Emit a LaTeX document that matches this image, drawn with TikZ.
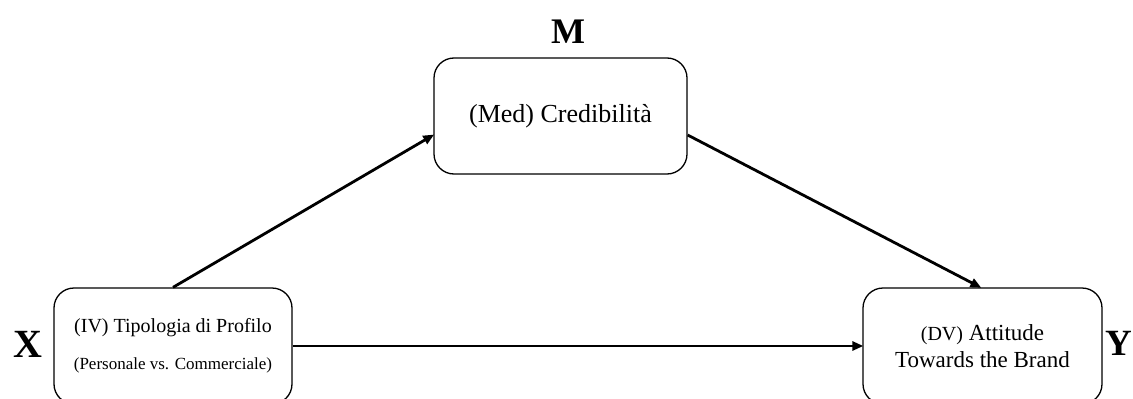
\documentclass[tikz,border=0pt]{standalone}
\usepackage{fontspec}
\setmainfont{Liberation Serif}
\usepackage{tikz}
\usetikzlibrary{arrows.meta,positioning}

\begin{document}
\begin{tikzpicture}[
  x=1pt, y=-1pt,
  box/.style={draw=black, line width=1.3pt, rounded corners=20pt, fill=white, minimum height=116pt, inner sep=0pt, align=center},
  varlabel/.style={font=\fontsize{40}{40}\selectfont\bfseries, inner sep=0pt},
  arrow/.style={-{Triangle[length=11pt, width=9pt]}, line width=2.8pt, draw=black, shorten >=-1pt}
]
\useasboundingbox (0,0) rectangle (1133,399);
\node[box, minimum width=253pt] (med) at (560.5,116) {\fontsize{26}{30}\selectfont (Med) Credibilità};
\node[box, minimum width=238pt] (iv) at (173,346) {\fontsize{20}{24}\selectfont (IV) Tipologia di Profilo\\[20pt]\fontsize{17}{20}\selectfont (Personale vs. Commerciale)};
\node[box, minimum width=239pt] (dv) at (982.5,346) {\fontsize{23}{28}\selectfont {\fontsize{20}{28}\selectfont(DV)} Attitude\\[6pt]\fontsize{23}{28}\selectfont Towards the Brand};
\node[varlabel, font=\fontsize{36}{36}\selectfont\bfseries, anchor=base] (m) at (568,43) {M};
\node[varlabel, anchor=base] (x) at (27.5,357) {X};
\node[varlabel, font=\fontsize{37}{37}\selectfont\bfseries, anchor=base east] (y) at (1132,355) {Y};

\draw[arrow] (iv.north) -- ([yshift=-19pt]med.west);
\draw[arrow] ([yshift=-19pt]med.east) -- ([xshift=-2pt]dv.north);
\draw[arrow] (iv.east) -- (dv.west);
\end{tikzpicture}
\end{document}
